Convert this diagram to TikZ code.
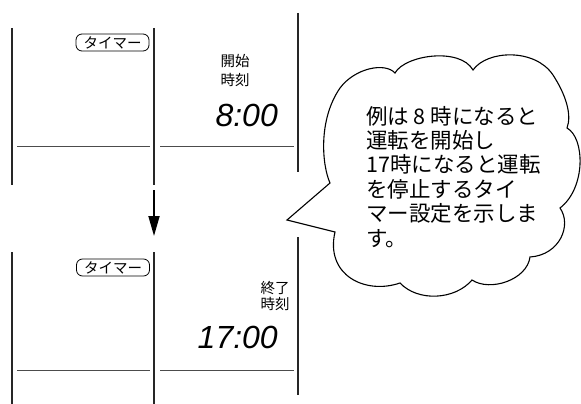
\documentclass[tikz,border=0pt]{standalone}
\usepackage{fontspec}
\newfontfamily\jp{Noto Sans CJK JP}
\newfontfamily\seg{Liberation Sans}
\usetikzlibrary{arrows.meta}
\begin{document}
\begin{tikzpicture}[x=1pt,y=-1pt,
  vline/.style={line width=1.3pt, black!85},
  hline/.style={line width=0.9pt, black!70},
  tbox/.style={draw, line width=0.8pt, rounded corners=6pt, inner sep=0pt,
    minimum width=73pt, minimum height=17pt, font=\jp\fontsize{14.5}{14.5}\selectfont},
  lblA/.style={font=\jp\fontsize{14.5}{19}\selectfont, align=center, inner sep=0pt},
  lblB/.style={font=\jp\fontsize{14.5}{16.5}\selectfont, align=center, inner sep=0pt},
  digits/.style={font=\seg\itshape\fontsize{32}{32}\selectfont, inner sep=0pt, anchor=base east},
  cloudtxt/.style={font=\jp\fontsize{21.5}{21.5}\selectfont, inner sep=0pt, anchor=base west},
  cloudline/.style={line width=1.1pt, line join=miter},
  flow/.style={line width=1.8pt, -{Triangle[length=20pt,width=11pt]}}
]
\useasboundingbox (0,0) rectangle (581,404);
% top panel
\draw[vline] (12,28) -- (12,185);
\draw[vline] (154,28) -- (154,185);
\draw[vline] (298,13) -- (298,172);
\draw[hline] (17,146) -- (150,146);
\draw[hline] (160,146) -- (294,146);
\node[tbox] (t1) at (112.5,42.5) {タイマー};
\node[lblA] (s1) at (235,70.5) {開始\\時刻};
\node[digits] (d1) at (278,126) {8:00};
% arrow
\coordinate (a1) at (154,190);
\coordinate (a2) at (154,236);
\draw[flow] (a1) -- (a2);
% bottom panel
\draw[vline] (12,252) -- (12,404);
\draw[vline] (154,252) -- (154,404);
\draw[vline] (298,237) -- (298,395);
\draw[hline] (17,370) -- (150,370);
\draw[hline] (160,370) -- (294,370);
\node[tbox] (t2) at (113,267.5) {タイマー};
\node[lblB] (s2) at (275,296) {終了\\時刻};
\node[digits] (d2) at (278,348) {17:00};
% cloud
\draw[cloudline] (330,183) .. controls (322,165) and (318,120) .. (340,88)
  .. controls (355,68) and (385,62) .. (395,73)
  .. controls (405,55) and (460,47) .. (473,70)
  .. controls (487,50) and (535,48) .. (553,75)
  .. controls (566,95) and (572,115) .. (567,128)
  .. controls (585,138) and (586,188) .. (560,208)
  .. controls (572,225) and (560,255) .. (530,257)
  .. controls (527,280) and (490,292) .. (472,280)
  .. controls (455,300) and (418,302) .. (400,283)
  .. controls (365,295) and (325,275) .. (335,232)
  -- (287,220) -- cycle;
\node[cloudtxt] (c1) at (366,124) {例は 8 時になると};
\node[cloudtxt] (c2) at (366,148.4) {運転を開始し};
\node[cloudtxt] (c3) at (366,172.8) {17時になると運転};
\node[cloudtxt] (c4) at (366,197.2) {を停止するタイ};
\node[cloudtxt] (c5) at (366,221.6) {マー設定を示しま};
\node[cloudtxt] (c6) at (366,246) {す。};
\end{tikzpicture}
\end{document}
